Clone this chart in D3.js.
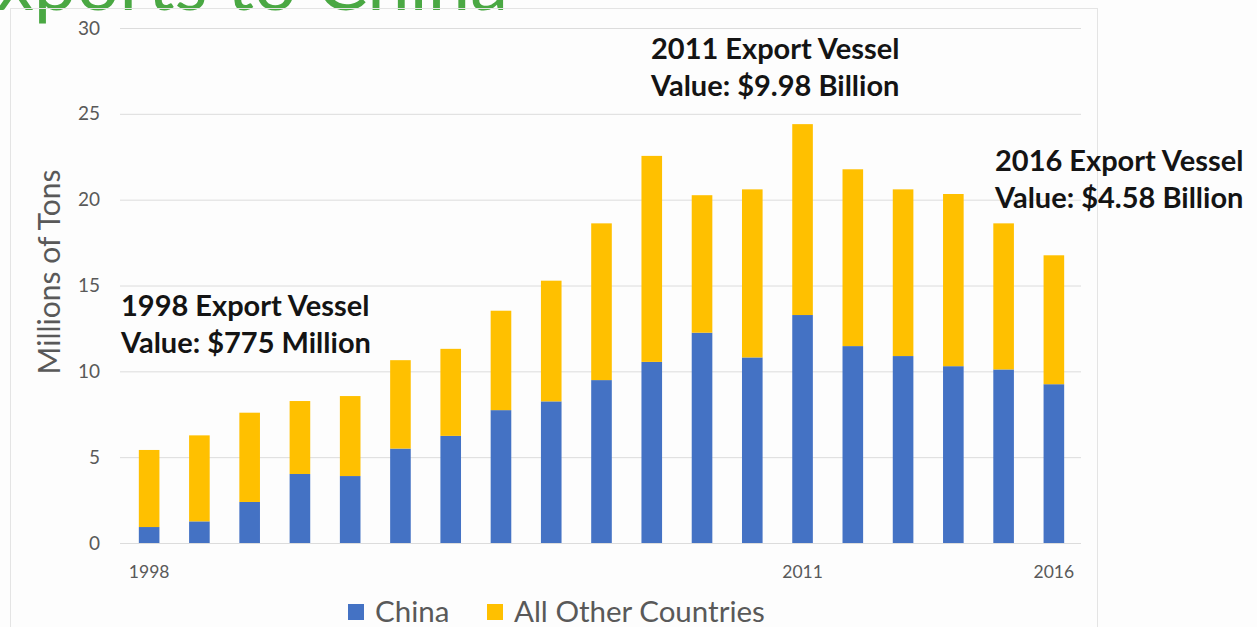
<!DOCTYPE html>
<html>
<head>
<meta charset="utf-8">
<script src="https://cdn.jsdelivr.net/npm/d3@7"></script>
<style>
  html, body { margin: 0; padding: 0; background: #fdfdfd; }
  svg { display: block; }
</style>
</head>
<body>
<svg id="chart" width="1257" height="627"></svg>
<script>
// values (millions of tons)
const years = [1998, 1999, 2000, 2001, 2002, 2003, 2004, 2005, 2006, 2007,
               2008, 2009, 2010, 2011, 2012, 2013, 2014, 2015, 2016];
const china = [0.93, 1.26, 2.39, 4.02, 3.90, 5.50, 6.24, 7.74, 8.25, 9.49,
               10.55, 12.25, 10.81, 13.28, 11.47, 10.89, 10.30, 10.11, 9.25];
const otherCountries = [4.49, 5.01, 5.20, 4.25, 4.66, 5.15, 5.07, 5.79, 7.03, 9.13,
                        12.00, 8.01, 9.79, 11.12, 10.30, 9.71, 10.03, 8.51, 7.51];
const seriesNames = ['China', 'All Other Countries'];
const yTicks = [0, 5, 10, 15, 20, 25, 30];
const xTickLabels = [1998, 2011, 2016];
const notes = [
  ['1998 Export Vessel', 'Value: $775 Million'],
  ['2011 Export Vessel', 'Value: $9.98 Billion'],
  ['2016 Export Vessel', 'Value: $4.58 Billion']
];

const svg = d3.select('#chart');
const font = 'Lato, "Open Sans", sans-serif';
const grey = '#595959';

// slide title, cut off at the top of the picture
svg.append('text')
    .attr('x', 508)
    .attr('y', 10)
    .attr('text-anchor', 'end')
    .style('font-family', font)
    .style('font-size', '76px')
    .style('fill', '#4aa843')
    .text('Exports to China');

// chart frame
svg.append('rect')
    .attr('x', 10.5)
    .attr('y', 8.5)
    .attr('width', 1087)
    .attr('height', 700)
    .attr('fill', 'none')
    .attr('stroke', '#e4e4e4');

const x = d3.scaleBand()
    .domain(years)
    .range([124, 1079])
    .paddingInner(0.59)
    .paddingOuter(0.295);

const y = d3.scaleLinear()
    .domain([0, 30])
    .range([543, 28]);

const color = d3.scaleOrdinal()
    .domain(seriesNames)
    .range(['#4472c4', '#ffc000']);

// y axis with gridlines
const yAxis = svg.append('g')
    .attr('transform', 'translate(120,0)')
    .call(d3.axisLeft(y).tickValues(yTicks).tickSize(-961).tickPadding(20));
yAxis.select('.domain').remove();
yAxis.selectAll('line').attr('stroke', '#dcdcdc');
yAxis.selectAll('text')
    .style('font-family', font)
    .style('font-size', '19px')
    .style('fill', grey);

svg.append('text')
    .attr('transform', 'translate(60,272) rotate(-90)')
    .attr('text-anchor', 'middle')
    .style('font-family', font)
    .style('font-size', '30px')
    .style('fill', grey)
    .text('Millions of Tons');

// x axis, only three year labels
const xAxis = svg.append('g')
    .attr('transform', 'translate(0,543)')
    .call(d3.axisBottom(x).tickValues(xTickLabels).tickSize(0).tickPadding(23));
xAxis.select('.domain').remove();
xAxis.selectAll('text')
    .style('font-family', font)
    .style('font-size', '17.5px')
    .style('fill', grey);

// stacked bars
const table = years.map((yr, i) => ({
    year: yr,
    'China': china[i],
    'All Other Countries': otherCountries[i]
}));
const stacked = d3.stack().keys(seriesNames)(table);

svg.append('g')
    .selectAll('g')
    .data(stacked)
    .join('g')
    .attr('fill', d => color(d.key))
    .selectAll('rect')
    .data(d => d)
    .join('rect')
    .attr('x', d => x(d.data.year))
    .attr('y', d => y(d[1]))
    .attr('height', d => y(d[0]) - y(d[1]))
    .attr('width', x.bandwidth());

// annotations
const notePos = [[121, 316], [651, 59], [995, 171]];
notes.forEach((lines, i) => {
    const t = svg.append('text')
        .attr('x', notePos[i][0])
        .attr('y', notePos[i][1])
        .style('font-family', font)
        .style('font-size', '29px')
        .style('font-weight', 'bold')
        .style('fill', '#141414');
    lines.forEach((line, j) => {
        t.append('tspan')
            .attr('x', notePos[i][0])
            .attr('dy', j === 0 ? 0 : 37)
            .text(line);
    });
});

// legend
const legend = svg.append('g')
    .selectAll('g')
    .data(seriesNames)
    .join('g')
    .attr('transform', (d, i) => `translate(${[348, 487][i]},604)`);
legend.append('rect')
    .attr('width', 16)
    .attr('height', 16)
    .attr('fill', d => color(d));
legend.append('text')
    .attr('x', 27)
    .attr('y', 18)
    .style('font-family', font)
    .style('font-size', '29.5px')
    .style('fill', grey)
    .text(d => d);
</script>
</body>
</html>
